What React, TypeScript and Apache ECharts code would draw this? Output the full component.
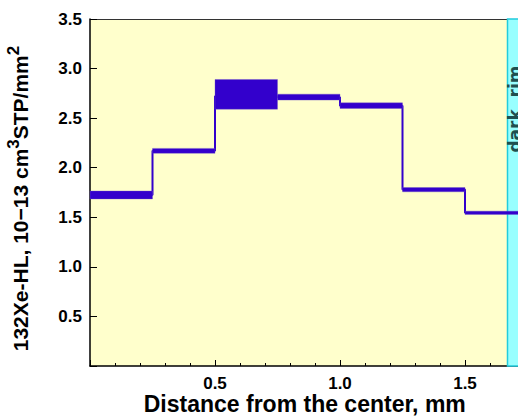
import React, { useEffect, useRef } from "react";
import * as echarts from "echarts";

// Step segments (distance from the center, mm)
const segStart = [0, 0.25, 0.5, 0.75, 1.0, 1.25, 1.5];
const segEnd = [0.25, 0.5, 0.75, 1.0, 1.25, 1.5, 1.75];
// band limits (10^-13 cm3STP/mm2)
const bandLow = [1.685, 2.145, 2.59, 2.682, 2.598, 1.757, 1.529];
const bandHigh = [1.765, 2.195, 2.89, 2.742, 2.654, 1.8, 1.562];
// step line levels
const levels = [1.725, 2.17, 2.72, 2.71, 2.625, 1.78, 1.545];
// dark rim zone
const rimStart = 1.67;
const rimEnd = 1.75;
const rimLabel = "dark  rim";
const xTicks = [0.5, 1.0, 1.5];
const yTicks = [0.5, 1.0, 1.5, 2.0, 2.5, 3.0, 3.5];

const BLUE = "#3300CC";
const FONT = "'Liberation Sans', Arial, sans-serif";

export default function App() {
  const ref = useRef<HTMLDivElement>(null);
  useEffect(() => {
    if (!ref.current) return;
    const chart = echarts.init(ref.current, undefined, { renderer: "svg" });
    const bandData = segStart.map((s, i) => [s, segEnd[i], bandLow[i], bandHigh[i]]);
    const stepData = segStart.map((s, i) => [s, levels[i]]);
    stepData.push([segEnd[segEnd.length - 1], levels[levels.length - 1]]);

    chart.setOption({
      animation: false,
      backgroundColor: "#ffffff",
      grid: {
        left: 90,
        top: 19,
        width: 437.5,
        height: 347,
        show: true,
        backgroundColor: "#FFFFCC",
        borderWidth: 0,
        containLabel: false,
        outerBoundsMode: "none",
      },
      xAxis: [
        {
          type: "value",
          min: 0,
          max: 1.75,
          interval: 0.5,
          name: "Distance from the center, mm",
          nameLocation: "middle",
          nameGap: 26,
          nameMoveOverlap: false,
          nameTextStyle: {
            fontFamily: FONT,
            fontWeight: "bold",
            fontSize: 23,
            color: "#000",
            padding: [0, 8, 0, 0],
          },
          axisLine: { show: true, onZero: false, lineStyle: { color: "#000", width: 1.5 } },
          axisTick: { show: true, inside: true, length: 6, lineStyle: { color: "#000", width: 1 } },
          minorTick: { show: true, splitNumber: 5, length: 3, lineStyle: { color: "#000", width: 1 } },
          splitLine: { show: false },
          axisLabel: {
            fontFamily: FONT,
            fontWeight: "bold",
            fontSize: 17,
            color: "#000",
            margin: 9,
            showMinLabel: false,
            showMaxLabel: false,
            formatter: (v: number) => (xTicks.some((t) => Math.abs(t - v) < 1e-9) ? v.toFixed(1) : ""),
          },
        },
        {
          type: "value",
          position: "top",
          min: 0,
          max: 1.75,
          axisLine: { show: true, onZero: false, lineStyle: { color: "#333", width: 1.2 } },
          axisTick: { show: false },
          axisLabel: { show: false },
          splitLine: { show: false },
        },
      ],
      yAxis: {
        type: "value",
        min: 0,
        max: 3.5,
        interval: 0.5,
        name: "{n|132Xe-HL, 10\u221213 cm}{s|3}{n|STP/mm}{s|2}",
        nameLocation: "middle",
        nameGap: 59,
        nameTextStyle: {
          fontFamily: FONT,
          fontWeight: "bold",
          fontSize: 21,
          color: "#000",
          padding: [0, 12, 0, 0],
          rich: {
            n: { fontFamily: FONT, fontWeight: "bold", fontSize: 21, color: "#000", lineHeight: 26, verticalAlign: "bottom" },
            s: { fontFamily: FONT, fontWeight: "bold", fontSize: 17, color: "#000", lineHeight: 26, verticalAlign: "top" },
          },
        },
        axisLine: { show: true, onZero: false, lineStyle: { color: "#000", width: 1.5 } },
        axisTick: { show: true, inside: true, length: 7, lineStyle: { color: "#000", width: 1 } },
        splitLine: { show: false },
        axisLabel: {
          fontFamily: FONT,
          fontWeight: "bold",
          fontSize: 17,
          color: "#000",
          margin: 8,
          formatter: (v: number) => (yTicks.some((t) => Math.abs(t - v) < 1e-9) ? v.toFixed(1) : ""),
        },
      },
      series: [
        {
          type: "line",
          data: [],
          z: 1,
          silent: true,
          markArea: {
            silent: true,
            itemStyle: { color: "#99FFFF", borderColor: "#22CCDD", borderWidth: 1.5 },
            label: { show: false },
            data: [[{ xAxis: rimStart, yAxis: 0 }, { xAxis: rimEnd, yAxis: 3.5 }]],
          },
        },
        {
          type: "line",
          data: stepData,
          step: "end",
          symbol: "none",
          z: 3,
          lineStyle: { color: BLUE, width: 2 },
        },
        {
          type: "custom",
          z: 4,
          data: bandData,
          encode: { x: [0, 1], y: [2, 3] },
          renderItem: (params: any, api: any) => {
            const p0 = api.coord([api.value(0), api.value(3)]);
            const p1 = api.coord([api.value(1), api.value(2)]);
            return {
              type: "rect",
              shape: { x: p0[0], y: p0[1], width: p1[0] - p0[0], height: p1[1] - p0[1] },
              style: { fill: BLUE, stroke: "rgba(110,80,200,0.6)", lineWidth: 0.6 },
            };
          },
        },
      ],
      graphic: [
        {
          type: "text",
          x: 506,
          y: 109,
          rotation: Math.PI / 2,
          z: 10,
          style: {
            text: rimLabel,
            fontFamily: "'DejaVu Sans', sans-serif",
            fontWeight: "bold",
            fontSize: 17,
            fill: "#1f4f4f",
            align: "center",
            verticalAlign: "top",
          },
        },
      ],
    });
    return () => chart.dispose();
  }, []);

  return (
    <div style={{ position: "fixed", left: 0, top: 0, width: 518, height: 417, overflow: "hidden", background: "#fff" }}>
      <div ref={ref} style={{ width: 560, height: 417 }} />
    </div>
  );
}
